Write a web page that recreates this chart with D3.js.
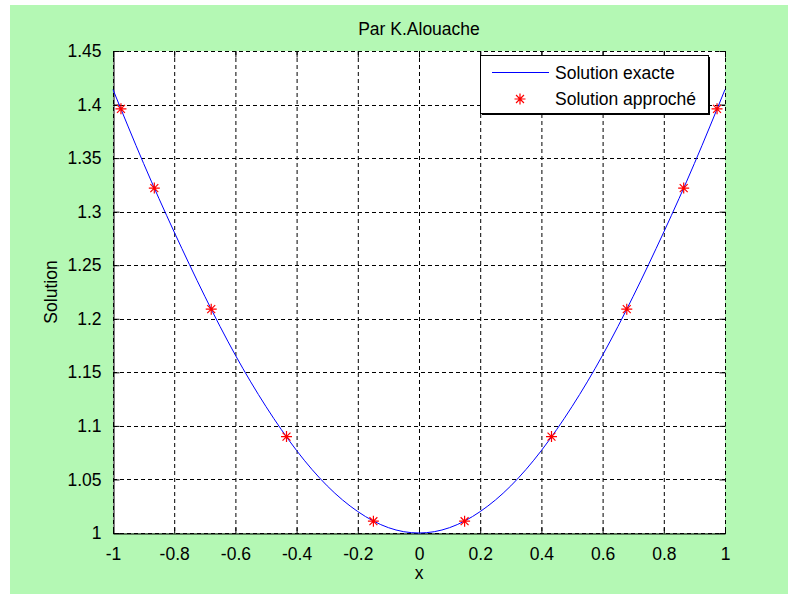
<!DOCTYPE html>
<html><head><meta charset="utf-8">
<script src="https://cdn.jsdelivr.net/npm/d3@7"></script>
<style>html,body{margin:0;padding:0;background:#fff;}svg{display:block;}</style>
</head><body>
<script>
// Data
const exactX = [-1,-0.9,-0.8,-0.7,-0.6,-0.5,-0.4,-0.3,-0.2,-0.1,0,0.1,0.2,0.3,0.4,0.5,0.6,0.7,0.8,0.9,1];
const exactY = [1.414,1.345,1.281,1.221,1.166,1.118,1.077,1.044,1.020,1.005,1.000,1.005,1.020,1.044,1.077,1.118,1.166,1.221,1.281,1.345,1.414];
const approxX = [-0.974,-0.865,-0.679,-0.433,-0.149,0.149,0.433,0.679,0.865,0.974];
const approxY = [1.396,1.322,1.209,1.090,1.011,1.011,1.090,1.209,1.322,1.396];
const xTicks = [-1,-0.8,-0.6,-0.4,-0.2,0,0.2,0.4,0.6,0.8,1];
const yTicks = [1,1.05,1.1,1.15,1.2,1.25,1.3,1.35,1.4,1.45];
const titleText = "Par K.Alouache";
const xLabel = "x", yLabel = "Solution";
const legendLabels = ["Solution exacte","Solution approché"];

const W = 788, H = 594;
const L = 113, R = 725, T = 51, B = 533;
const font = "'Liberation Sans', Arial, sans-serif";
const fs = 17.5;

const svg = d3.select("body").append("svg").attr("width", W).attr("height", H);
svg.append("rect").attr("x",10).attr("y",5).attr("width",W-10).attr("height",H-5).attr("fill","#b4f8b4");

const x = d3.scaleLinear().domain([-1,1]).range([L,R]);
const y = d3.scaleLinear().domain([1,1.45]).range([B,T]);

svg.append("rect").attr("x",L).attr("y",T).attr("width",R-L).attr("height",B-T).attr("fill","#fff");

const fmt = d => String(+d.toFixed(2));

// grid
const g = svg.append("g");
g.selectAll(".gx").data(xTicks).join("line")
  .attr("x1",d=>x(d)+0.5).attr("x2",d=>x(d)+0.5).attr("y1",T).attr("y2",B)
  .attr("stroke","#000").attr("stroke-width",1).attr("stroke-dasharray","4,3");
g.selectAll(".gy").data(yTicks).join("line")
  .attr("y1",d=>Math.round(y(d))+0.5).attr("y2",d=>Math.round(y(d))+0.5).attr("x1",L).attr("x2",R)
  .attr("stroke","#000").attr("stroke-width",1).attr("stroke-dasharray","4,3");

// axes with inward ticks
const axB = d3.axisBottom(x).tickValues(xTicks).tickSize(-6).tickPadding(14).tickFormat(fmt);
const axL = d3.axisLeft(y).tickValues(yTicks).tickSize(-6).tickPadding(12).tickFormat(fmt);
const axT = d3.axisTop(x).tickValues(xTicks).tickSize(-6).tickFormat("");
const axR = d3.axisRight(y).tickValues(yTicks).tickSize(-6).tickFormat("");
function style(sel){
  sel.selectAll("text").attr("font-family",font).attr("font-size",fs).attr("fill","#000");
  sel.selectAll("line").attr("stroke","#000");
}
const gb = svg.append("g").attr("transform",`translate(0,${B+0.5})`).call(axB).call(style);
gb.select(".domain").attr("stroke","#000");
const gl = svg.append("g").attr("transform",`translate(${L+0.5},0)`).call(axL).call(style);
gl.select(".domain").attr("stroke","#000");
const gt = svg.append("g").attr("transform",`translate(0,${T+0.5})`).call(axT).call(style);
gt.select(".domain").remove();
const gr = svg.append("g").attr("transform",`translate(${R+0.5},0)`).call(axR).call(style);
gr.select(".domain").remove();
[gb,gl,gt,gr].forEach(a=>a.attr("font-family",null).attr("font-size",null));

// exact curve
const line = d3.line().x((d,i)=>x(exactX[i])).y(d=>y(d)).curve(d3.curveNatural);
svg.append("path").datum(exactY).attr("d",line).attr("fill","none").attr("stroke","#0000ff").attr("stroke-width",1);

// asterisk markers
function star(sel, r){
  const p = `M${-r},0L${r},0M0,${-r}L0,${r}M${-r*0.72},${-r*0.72}L${r*0.72},${r*0.72}M${-r*0.72},${r*0.72}L${r*0.72},${-r*0.72}`;
  sel.append("path").attr("d",p).attr("stroke","#ff0000").attr("stroke-width",1.2).attr("fill","none");
}
svg.selectAll(".pt").data(approxX).join("g")
  .attr("transform",(d,i)=>`translate(${x(d)},${y(approxY[i])})`)
  .each(function(){ star(d3.select(this),5.5); });

// legend
const lg = svg.append("g");
lg.append("rect").attr("x",482).attr("y",57).attr("width",228).attr("height",58).attr("fill","#000");
lg.append("rect").attr("x",480.5).attr("y",55.5).attr("width",228).attr("height",58).attr("fill","#fff").attr("stroke","#000").attr("stroke-width",1);
lg.append("line").attr("x1",492).attr("x2",549).attr("y1",72.5).attr("y2",72.5).attr("stroke","#0000ff").attr("stroke-width",1);
star(lg.append("g").attr("transform","translate(520,99)"),5.5);
lg.append("text").attr("x",555).attr("y",78.5).text(legendLabels[0]).attr("font-family",font).attr("font-size",fs);
lg.append("text").attr("x",555).attr("y",105).text(legendLabels[1]).attr("font-family",font).attr("font-size",fs);

// title and labels
svg.append("text").attr("x",(L+R)/2).attr("y",35).attr("text-anchor","middle").text(titleText).attr("font-family",font).attr("font-size",fs);
svg.append("text").attr("x",(L+R)/2).attr("y",579).attr("text-anchor","middle").text(xLabel).attr("font-family",font).attr("font-size",fs);
svg.append("text").attr("transform",`translate(57,${(T+B)/2}) rotate(-90)`).attr("text-anchor","middle").text(yLabel).attr("font-family",font).attr("font-size",fs);
</script>
</body></html>
